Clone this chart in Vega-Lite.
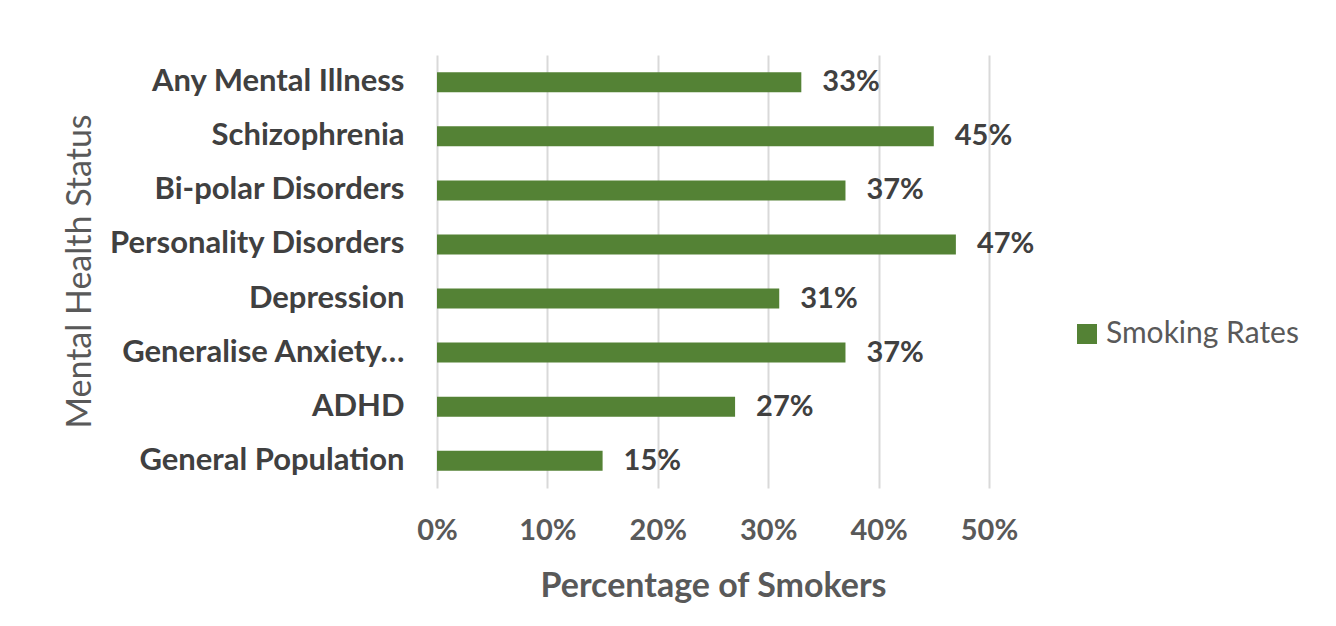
{
  "$schema": "https://vega.github.io/schema/vega-lite/v6.json",
  "autosize": {"type": "none"},
  "padding": {"left": 437, "top": 55, "right": 347, "bottom": 138},
  "width": 552,
  "height": 433,
  "background": "white",
  "data": {"values": [
    {"status": "Any Mental Illness", "rate": 0.33, "series": "Smoking Rates"},
    {"status": "Schizophrenia", "rate": 0.45, "series": "Smoking Rates"},
    {"status": "Bi-polar Disorders", "rate": 0.37, "series": "Smoking Rates"},
    {"status": "Personality Disorders", "rate": 0.47, "series": "Smoking Rates"},
    {"status": "Depression", "rate": 0.31, "series": "Smoking Rates"},
    {"status": "Generalise Anxiety…", "rate": 0.37, "series": "Smoking Rates"},
    {"status": "ADHD", "rate": 0.27, "series": "Smoking Rates"},
    {"status": "General Population", "rate": 0.15, "series": "Smoking Rates"}
  ]},
  "config": {
    "font": "Lato",
    "view": {"stroke": null}
  },
  "encoding": {
    "y": {
      "field": "status", "type": "nominal", "sort": null,
      "scale": {"paddingInner": 0.63, "paddingOuter": 0.32},
      "axis": {
        "title": "Mental Health Status",
        "titleFont": "Lato", "titleFontSize": 34, "titleFontWeight": "normal", "titleColor": "#595959",
        "titleX": -357, "titleY": 216, "titleAlign": "center", "titleBaseline": "middle", "titleAngle": -90,
        "labelFont": "Lato", "labelFontSize": 31, "labelFontWeight": "bold", "labelColor": "#404040",
        "labelPadding": 33, "ticks": false, "domain": false, "grid": false, "labelLimit": 400
      }
    },
    "x": {
      "field": "rate", "type": "quantitative",
      "scale": {"domain": [0, 0.5], "nice": false},
      "axis": {
        "title": "Percentage of Smokers", "format": ".0%", "values": [0, 0.1, 0.2, 0.3, 0.4, 0.5],
        "titleFont": "Lato", "titleFontSize": 34, "titleFontWeight": "bold", "titleColor": "#595959", "titlePadding": 24,
        "labelFont": "Lato", "labelFontSize": 29, "labelFontWeight": "bold", "labelColor": "#595959", "labelPadding": 28,
        "labelFlush": false, "labelOverlap": false,
        "ticks": false, "domain": false, "grid": true, "gridColor": "#d9d9d9", "gridWidth": 2
      }
    }
  },
  "layer": [
    {
      "mark": {"type": "bar"},
      "encoding": {
        "color": {
          "field": "series", "type": "nominal",
          "scale": {"range": ["#548235"]},
          "legend": {
            "title": null, "orient": "none", "legendX": 635, "legendY": 264,
            "symbolType": "square", "symbolSize": 400, "symbolStrokeWidth": 0,
            "labelFont": "Lato", "labelFontSize": 30, "labelColor": "#595959", "labelOffset": 4, "labelLimit": 400
          }
        }
      }
    },
    {
      "mark": {"type": "text", "align": "left", "baseline": "middle", "dx": 21, "fontSize": 29, "fontWeight": "bold", "color": "#404040", "font": "Lato"},
      "encoding": {
        "text": {"field": "rate", "type": "quantitative", "format": ".0%"}
      }
    }
  ]
}
